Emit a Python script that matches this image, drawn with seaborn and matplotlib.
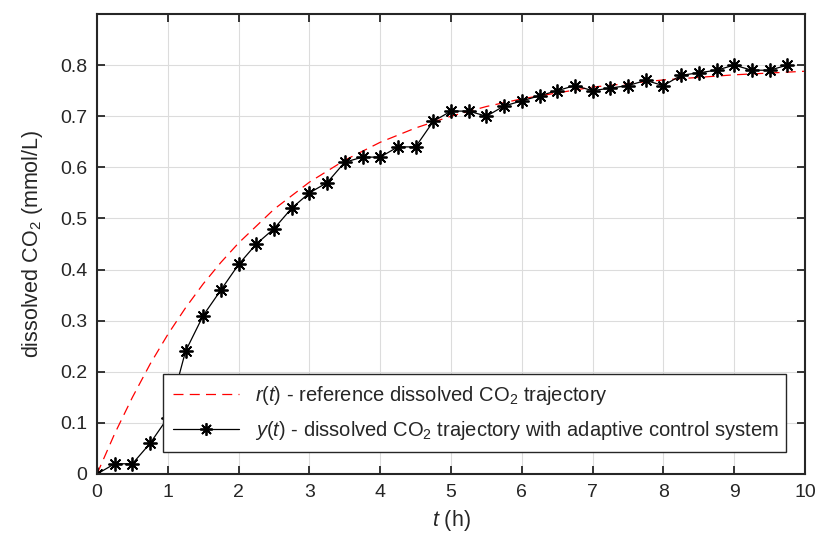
import matplotlib
matplotlib.use("Agg")
import matplotlib.pyplot as plt
import numpy as np
import pandas as pd
import seaborn as sns

# %% data
t_meas = [0, 0.25, 0.5, 0.75, 1.0, 1.25, 1.5, 1.75, 2.0, 2.25, 2.5, 2.75,
          3.0, 3.25, 3.5, 3.75, 4.0, 4.25, 4.5, 4.75, 5.0, 5.25, 5.5, 5.75,
          6.0, 6.25, 6.5, 6.75, 7.0, 7.25, 7.5, 7.75, 8.0, 8.25, 8.5, 8.75,
          9.0, 9.25, 9.5, 9.75]
y_meas = [0.0, 0.02, 0.02, 0.06, 0.11, 0.24, 0.31, 0.36, 0.41, 0.45, 0.48, 0.52,
          0.55, 0.57, 0.61, 0.62, 0.62, 0.64, 0.64, 0.69, 0.71, 0.71, 0.70, 0.72,
          0.73, 0.74, 0.75, 0.76, 0.75, 0.755, 0.76, 0.77, 0.76, 0.78, 0.785, 0.79,
          0.80, 0.79, 0.79, 0.80]

t_ref = [0, 0.25, 0.5, 0.75, 1.0, 1.25, 1.5, 1.75, 2.0, 2.5, 3.0, 3.5,
         4.0, 4.5, 5.0, 5.5, 6.0, 7.0, 8.0, 9.0, 10.0]
r_ref = [0.0, 0.079, 0.150, 0.215, 0.273, 0.325, 0.372, 0.414, 0.452, 0.518,
         0.571, 0.614, 0.649, 0.677, 0.700, 0.719, 0.734, 0.757, 0.771, 0.781,
         0.788]

ref = pd.DataFrame({"t": t_ref, "r": r_ref})
meas = pd.DataFrame({"t": t_meas, "y": y_meas})

# %% style
sns.set_theme(style="whitegrid")
plt.rcParams["font.family"] = ["Liberation Sans", "DejaVu Sans"]
plt.rcParams["mathtext.fontset"] = "custom"
plt.rcParams["mathtext.rm"] = "Liberation Sans"
plt.rcParams["mathtext.it"] = "Liberation Sans:italic"

fig = plt.figure(figsize=(8.18, 5.4), dpi=100)
ax = fig.add_axes([97 / 818, 66 / 540, 708 / 818, 460 / 540])
ax.set_facecolor("white")

sns.lineplot(data=ref, x="t", y="r", ax=ax, color="red", lw=0.9,
             dashes=False, linestyle=(0, (8, 5)),
             label=r"$\it{r}$($\it{t}$) - reference dissolved CO$_2$ trajectory")
sns.lineplot(data=meas, x="t", y="y", ax=ax, color="black", lw=0.9,
             marker=(8, 2, 0), markersize=10, markeredgewidth=1.3,
             markeredgecolor="black",
             label=r"$\it{y}$($\it{t}$) - dissolved CO$_2$ trajectory with adaptive control system")

ax.set_xlim(0, 10)
ax.set_ylim(0, 0.9)
ax.set_xticks(np.arange(0, 11, 1))
ax.set_yticks(np.arange(0, 0.81, 0.1))
ax.set_yticklabels(["0", "0.1", "0.2", "0.3", "0.4", "0.5", "0.6", "0.7", "0.8"])
ax.set_xlabel(r"$\it{t}$ (h)", fontsize=15.5, color="#262626", labelpad=5)
ax.set_ylabel("dissolved CO$_2$ (mmol/L)", fontsize=15.5, color="#262626", labelpad=11)

ax.grid(True, color="#dcdcdc", lw=0.8)
ax.tick_params(direction="in", length=6, width=1.3, colors="#262626",
               labelsize=14, top=True, right=True, left=True, bottom=True,
               pad=7)
for s in ax.spines.values():
    s.set_visible(True)
    s.set_color("#262626")
    s.set_linewidth(1.5)

leg = ax.legend(loc="lower left", bbox_to_anchor=(0.093, 0.048, 0.88, 0.174),
                mode="expand", fontsize=14.5, frameon=True, fancybox=False,
                handlelength=3.3, borderpad=0.5, labelspacing=0.6,
                borderaxespad=0, edgecolor="#262626", framealpha=1)
leg.get_frame().set_linewidth(1.0)
leg.legend_handles[1].set_markersize(9)

fig.savefig("out.png", dpi=100)
